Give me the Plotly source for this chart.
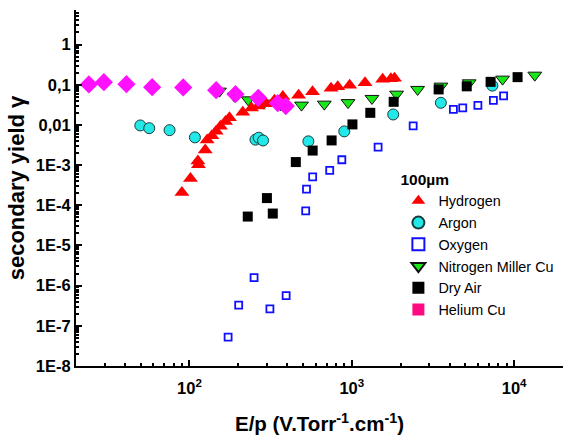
import plotly.graph_objects as go

# Secondary electron yield gamma versus reduced field E/p, 100 µm gap
h2_ep = [89.8, 101.4, 112.7, 113.6, 125, 128.5, 137.4, 146, 155.2, 166.6, 176.3,
         213, 241, 265, 297, 334, 376, 470, 573, 745, 819, 970, 1206, 1549, 1742, 1832]
h2_gamma = [2.09e-4, 4.67e-4, 1.26e-3, 1.02e-3, 2.36e-3, 4.19e-3, 5.4e-3, 7.0e-3, 9.2e-3,
            0.0122, 0.0150, 0.0208, 0.0262, 0.0294, 0.0335, 0.0414, 0.0506, 0.0551,
            0.0666, 0.0823, 0.0887, 0.0977, 0.1127, 0.1377, 0.1418, 0.146]

ar_ep = [49.8, 56.5, 75.4, 108, 255, 267, 284, 540, 899, 1799, 3537, 7344]
ar_gamma = [0.0097, 0.0083, 0.0074, 0.0049, 0.0043, 0.0048, 0.0041, 0.0039, 0.0069,
            0.0182, 0.0355, 0.095]

o2_ep = [173, 201, 250, 313, 394, 520, 526, 574, 731, 868, 1452, 2388, 4224, 4823,
         5980, 7450, 8610]
o2_gamma = [5.26e-8, 3.29e-7, 1.59e-6, 2.65e-7, 5.67e-7, 7.26e-5, 2.53e-4, 5.12e-4,
            7.38e-4, 1.36e-3, 2.8e-3, 9.45e-3, 0.0243, 0.0265, 0.0306, 0.0409, 0.053]

n2_ep = [153, 189, 230, 287, 365, 490, 677, 948, 1331, 1888, 2544, 3540, 5285, 8487, 13400]
n2_gamma = [0.0693, 0.052, 0.0421, 0.0348, 0.0316, 0.0311, 0.0329, 0.0359, 0.0456,
            0.0583, 0.0764, 0.0923, 0.1115, 0.1378, 0.173]

air_ep = [228.6, 300, 326, 452, 574, 751, 1009, 1300, 1811, 3427, 5105, 7160, 10500]
air_gamma = [5.24e-5, 1.51e-4, 6.22e-5, 1.19e-3, 2.3e-3, 4.11e-3, 0.0103, 0.020,
             0.0376, 0.0764, 0.0912, 0.118, 0.1545]

he_ep = [24.0, 29.7, 40.9, 58.9, 91.5, 146, 192, 265, 350, 392]
he_gamma = [0.1016, 0.116, 0.1035, 0.087, 0.0857, 0.0734, 0.0583, 0.0472, 0.0348, 0.0294]

y_tickvals = [1, 0.1, 0.01, 1e-3, 1e-4, 1e-5, 1e-6, 1e-7, 1e-8]
y_ticktext = ["1", "0,1", "0,01", "1E-3", "1E-4", "1E-5", "1E-6", "1E-7", "1E-8"]
x_tickvals = [100, 1000, 10000]
x_ticktext = ["10<sup>2</sup>", "10<sup>3</sup>", "10<sup>4</sup>"]

FONT = "Liberation Sans, Arial, sans-serif"

fig = go.Figure()

fig.add_trace(go.Scatter(
    x=n2_ep, y=n2_gamma, mode="markers", name="Nitrogen Miller Cu", legendrank=4,
    marker=dict(symbol="triangle-down", size=12, color="#18e818",
                line=dict(color="#111111", width=1))))
fig.add_trace(go.Scatter(
    x=ar_ep, y=ar_gamma, mode="markers", name="Argon", legendrank=2,
    marker=dict(symbol="circle", size=11, color="#22e8e8",
                line=dict(color="#1a3a3a", width=1))))
fig.add_trace(go.Scatter(
    x=o2_ep, y=o2_gamma, mode="markers", name="Oxygen", legendrank=3,
    marker=dict(symbol="square-open", size=7, color="#1010ff",
                line=dict(color="#1010ff", width=1.8))))
fig.add_trace(go.Scatter(
    x=air_ep, y=air_gamma, mode="markers", name="Dry Air", legendrank=5,
    marker=dict(symbol="square", size=10, color="#000000")))
fig.add_trace(go.Scatter(
    x=h2_ep, y=h2_gamma, mode="markers", name="Hydrogen", legendrank=1,
    marker=dict(symbol="triangle-up", size=13, color="#ff0000")))
fig.add_trace(go.Scatter(
    x=he_ep, y=he_gamma, mode="markers", name="Helium Cu", showlegend=False,
    marker=dict(symbol="diamond", size=14, color="#ff10ff")))
# legend key for the helium series
fig.add_trace(go.Scatter(
    x=[None], y=[None], mode="markers", name="Helium Cu", legendrank=6,
    marker=dict(symbol="square", size=9, color="#ff0a80")))

axis_common = dict(
    type="log", showline=True, linecolor="black", linewidth=2, mirror=False,
    showgrid=False, zeroline=False, ticks="inside", ticklen=6, tickwidth=2,
    tickcolor="black",
    tickfont=dict(family=FONT, size=16.5, color="black", weight="bold"),
)

fig.update_xaxes(
    **axis_common, range=[1.301, 4.301],
    tickvals=x_tickvals, ticktext=x_ticktext, ticklabelstandoff=6,
    minor=dict(ticks="inside", ticklen=3, tickwidth=1.5, tickcolor="black",
               dtick="D1", showgrid=False),
    title=dict(text="E/p (V.Torr<sup>-1</sup>.cm<sup>-1</sup>)",
               font=dict(family=FONT, size=20.5, color="black", weight="bold"),
               standoff=21),
)
fig.update_yaxes(
    **axis_common, range=[-8, 0.86],
    tickvals=y_tickvals, ticktext=y_ticktext,
    minor=dict(ticks="inside", ticklen=3, tickwidth=1.5, tickcolor="black",
               dtick="D1", showgrid=False),
    title=dict(text="secondary yield γ",
               font=dict(family=FONT, size=22, color="black", weight="bold"),
               standoff=5),
)

fig.update_layout(
    width=580, height=445,
    margin=dict(l=76, r=17, t=10, b=79),
    paper_bgcolor="white", plot_bgcolor="white",
    showlegend=True,
    legend=dict(
        x=0.662, y=0.565, xanchor="left", yanchor="top",
        bgcolor="rgba(0,0,0,0)",
        font=dict(family=FONT, size=14.4, color="black"),
        title=dict(text="<b>100µm</b>", font=dict(family=FONT, size=15.5, color="black")),
        itemsizing="constant", tracegroupgap=0,
    ),
)

fig.write_html("out.html")
